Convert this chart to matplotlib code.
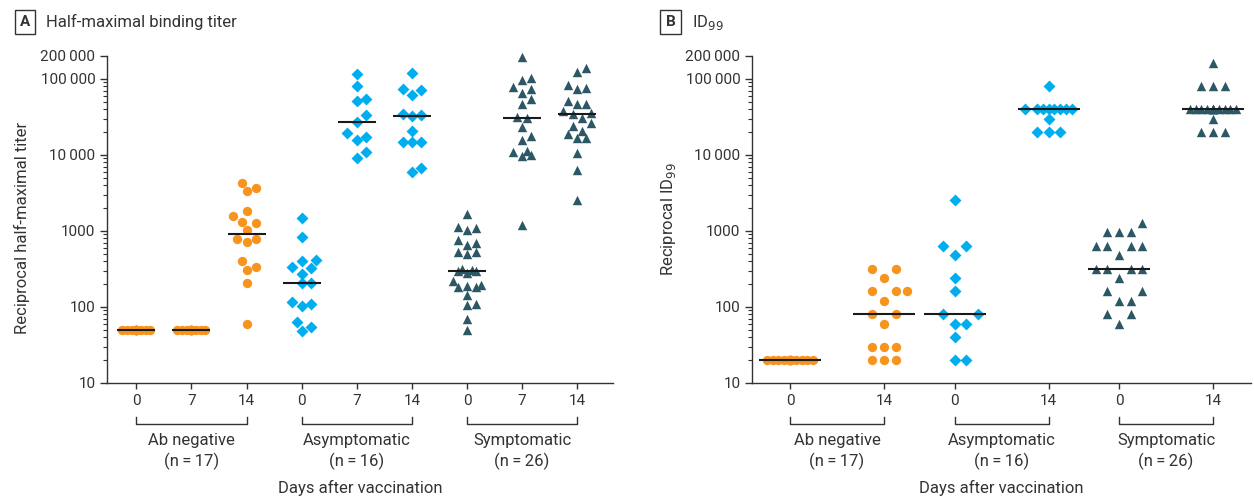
import numpy as np
import matplotlib
matplotlib.use('Agg')
import matplotlib.pyplot as plt
from matplotlib import font_manager
from matplotlib.ticker import FixedLocator, FixedFormatter, NullFormatter
import matplotlib.transforms as mtransforms

# ---------------- data ----------------
groups = ['Ab negative', 'Asymptomatic', 'Symptomatic']
group_n = ['(n\u2009=\u200917)', '(n\u2009=\u200916)', '(n\u2009=\u200926)']
days_A = ['0', '7', '14', '0', '7', '14', '0', '7', '14']
days_B = ['0', '14', '0', '14', '0', '14']

# Panel A: half-maximal binding titer
A_ab_d0 = [50, 50, 50, 50, 50, 50, 50, 50, 50, 50, 50, 50, 50, 50, 50, 50, 50]
A_ab_d7 = [50, 50, 50, 50, 50, 50, 50, 50, 50, 50, 50, 50, 50, 50, 50, 50, 50]
A_ab_d14 = [4270, 3680, 3340, 1820, 1560, 1310, 1270, 1030, 790, 790, 720,
            400, 340, 305, 205, 60]
A_as_d0 = [1490, 820, 415, 400, 340, 325, 275, 207, 207, 116, 109, 104, 63, 54, 49]
A_as_d7 = [117000, 80000, 54000, 51000, 33000, 27400, 19300, 17100, 15800,
           10800, 9100]
A_as_d14 = [120000, 73000, 71000, 62000, 35000, 34000, 32800, 20700, 15000,
            14700, 14700, 6700, 5900]
A_sy_d0 = [1680, 1140, 1080, 1020, 760, 700, 650, 536, 531, 495, 312, 306, 300,
           300, 280, 222, 197, 187, 181, 181, 144, 108, 105, 69, 50]
A_sy_d7 = [194000, 103000, 96000, 78500, 73300, 65600, 53700, 46700, 31200,
           30300, 23100, 17500, 15500, 11100, 10800, 9850, 9750, 1200]
A_sy_d14 = [139000, 123500, 82800, 76200, 74700, 51100, 46700, 46100, 38200,
            35100, 34100, 30300, 26100, 24100, 20700, 18700, 16900, 16600,
            10560, 6400, 2540]

# Panel B: ID99
B_ab_d0 = [20, 20, 20, 20, 20, 20, 20, 20, 20, 20, 20, 20, 20, 20, 20, 20, 20]
B_ab_d14 = [320, 320, 240, 160, 160, 160, 120, 80, 80, 60, 30, 30, 30, 20, 20, 20]
B_as_d0 = [2560, 640, 640, 480, 240, 160, 80, 80, 60, 60, 40, 20, 20]
B_as_d14 = [80000, 40000, 40000, 40000, 40000, 40000, 40000, 40000, 40000,
            30000, 20000, 20000, 20000]
B_sy_d0 = [1280, 960, 960, 960, 640, 640, 640, 640, 480, 320, 320, 320, 320,
           240, 160, 160, 120, 120, 80, 80, 60]
B_sy_d14 = [160000, 80000, 80000, 80000, 40000, 40000, 40000, 40000, 40000,
            40000, 40000, 40000, 40000, 40000, 40000, 40000, 40000, 30000,
            20000, 20000, 20000]

ytick_vals = [10, 100, 1000, 10000, 100000, 200000]
ytick_labels = ['10', '100', '1000', '10\u2009000', '100\u2009000', '200\u2009000']

# ---------------- style ----------------
avail = {f.name for f in font_manager.fontManager.ttflist}
fam = [f for f in ['Liberation Sans Narrow', 'Roboto', 'DejaVu Sans'] if f in avail]
plt.rcParams['font.family'] = fam
TEXT = '#333333'
ORANGE = '#F7941D'
CYAN = '#00AEEF'
SLATE = '#2C5765'
plt.rcParams['text.color'] = TEXT

W, H = 1254, 500
fig = plt.figure(figsize=(W / 100, H / 100), dpi=100)

def px_axes(l, r, b, t):
    return [l / W, (H - b) / H, (r - l) / W, (b - t) / H]

axA = fig.add_axes(px_axes(106.5, 613, 383, 56))
axB = fig.add_axes(px_axes(751.5, 1251, 383, 56))

posA = [0, 1, 2, 3, 4, 5, 6, 7, 8]
posB = [0, 1, 1.75, 2.75, 3.5, 4.5]
axA.set_xlim(-0.541, 8.65)
axB.set_xlim(-0.41, 4.904)

minor = [k * 10 ** e for e in range(1, 5) for k in range(2, 10)]
for ax in (axA, axB):
    ax.set_yscale('log')
    ax.set_ylim(10, 200000)
    ax.yaxis.set_major_locator(FixedLocator(ytick_vals))
    ax.yaxis.set_major_formatter(FixedFormatter(ytick_labels))
    ax.yaxis.set_minor_locator(FixedLocator(minor))
    ax.yaxis.set_minor_formatter(NullFormatter())
    for s in ('top', 'right'):
        ax.spines[s].set_visible(False)
    for s in ('left', 'bottom'):
        ax.spines[s].set_color(TEXT)
        ax.spines[s].set_linewidth(1.0)
    ax.tick_params(axis='y', which='major', length=5, width=1.0, color=TEXT,
                   labelsize=11, labelcolor=TEXT, pad=3)
    ax.tick_params(axis='y', which='minor', length=3, width=0.8, color=TEXT)
    ax.tick_params(axis='x', which='major', length=4, width=1.0, color=TEXT,
                   labelsize=11, labelcolor=TEXT, pad=4)
    ax.patch.set_alpha(0)

axA.set_xticks(posA)
axA.set_xticklabels(days_A)
axB.set_xticks(posB)
axB.set_xticklabels(days_B)


def swarm(ax, xc, vals, d, hmax, step):
    vals = np.asarray(vals, float)
    pts = ax.transData.transform(np.column_stack([np.full(len(vals), xc), vals]))
    y = pts[:, 1]
    order = np.argsort(y, kind='stable')
    k = int(np.floor(hmax / step + 1e-9))
    cands = [0.0]
    for i in range(1, k + 1):
        cands += [i * step, -i * step]
    px, py = [], []
    off = np.zeros(len(vals))
    for idx in order:
        best, bestd = 0.0, -1.0
        for c in cands:
            if px:
                dist = np.min(np.hypot(np.array(px) - c, np.array(py) - y[idx]))
            else:
                dist = np.inf
            if dist >= d:
                best = c
                break
            if dist > bestd + 1e-9:
                bestd, best = dist, c
        off[idx] = best
        px.append(best)
        py.append(y[idx])
    unit = ax.transData.transform((1, 100))[0] - ax.transData.transform((0, 100))[0]
    return xc + off / unit, vals


def draw_series(ax, xc, vals, color, marker, size, d, hmax, step, medw):
    xs, ys = swarm(ax, xc, vals, d, hmax, step)
    ax.scatter(xs, ys, s=size, marker=marker, color=color, linewidths=0,
               zorder=2, clip_on=False)
    med = np.median(vals)
    ax.hlines(med, xc - medw / 2, xc + medw / 2, color='#1a1a1a', lw=1.5, zorder=3)


seriesA = [A_ab_d0, A_ab_d7, A_ab_d14, A_as_d0, A_as_d7, A_as_d14,
           A_sy_d0, A_sy_d7, A_sy_d14]
seriesB = [B_ab_d0, B_ab_d14, B_as_d0, B_as_d14, B_sy_d0, B_sy_d14]
colors = [ORANGE, CYAN, SLATE]
markers = ['o', 'D', '^']
sizes = [45, 37, 46]

for i, v in enumerate(seriesA):
    g = i // 3
    draw_series(axA, posA[i], v, colors[g], markers[g], sizes[g],
                d=9.0, hmax=14.2, step=4.65, medw=0.69)
for i, v in enumerate(seriesB):
    g = i // 2
    draw_series(axB, posB[i], v, colors[g], markers[g], sizes[g],
                d=11.5, hmax=23.5, step=5.8, medw=0.66)

# ---------------- group brackets & labels ----------------
def fy(ypx):
    return (H - ypx) / H

def group_annot(ax, pos, per):
    tr = mtransforms.blended_transform_factory(ax.transData, fig.transFigure)
    for g in range(3):
        x0, x1 = pos[g * per], pos[g * per + per - 1]
        ax.plot([x0, x0, x1, x1], [fy(417), fy(424), fy(424), fy(417)],
                color=TEXT, lw=1.0, transform=tr, clip_on=False)
        xm = (x0 + x1) / 2
        ax.text(xm, fy(440), groups[g], transform=tr, ha='center', va='center',
                fontsize=12)
        ax.text(xm, fy(461), group_n[g], transform=tr, ha='center', va='center',
                fontsize=12)
    trx = mtransforms.blended_transform_factory(ax.transAxes, fig.transFigure)
    ax.text(0.5, fy(488), 'Days after vaccination', transform=trx,
            ha='center', va='center', fontsize=12)

group_annot(axA, posA, 3)
group_annot(axB, posB, 2)

# ---------------- y labels ----------------
fig.text(22 / W, fy(228), 'Reciprocal half-maximal titer', rotation=90,
         ha='center', va='center', fontsize=12)
fig.text(668 / W, fy(219), 'Reciprocal ID$_{99}$', rotation=90,
         ha='center', va='center', fontsize=12)

# ---------------- panel titles ----------------
box = dict(boxstyle='square,pad=0.35', fc='white', ec=TEXT, lw=1.0)
fig.text(25 / W, fy(22), 'A', ha='center', va='center', fontsize=11,
         fontweight='bold', bbox=box)
fig.text(46 / W, fy(22), 'Half-maximal binding titer', ha='left', va='center',
         fontsize=12)
fig.text(670.5 / W, fy(22), 'B', ha='center', va='center', fontsize=11,
         fontweight='bold', bbox=box)
fig.text(692 / W, fy(22), 'ID$_{99}$', ha='left', va='center', fontsize=12)

fig.savefig('out.png', dpi=100)
